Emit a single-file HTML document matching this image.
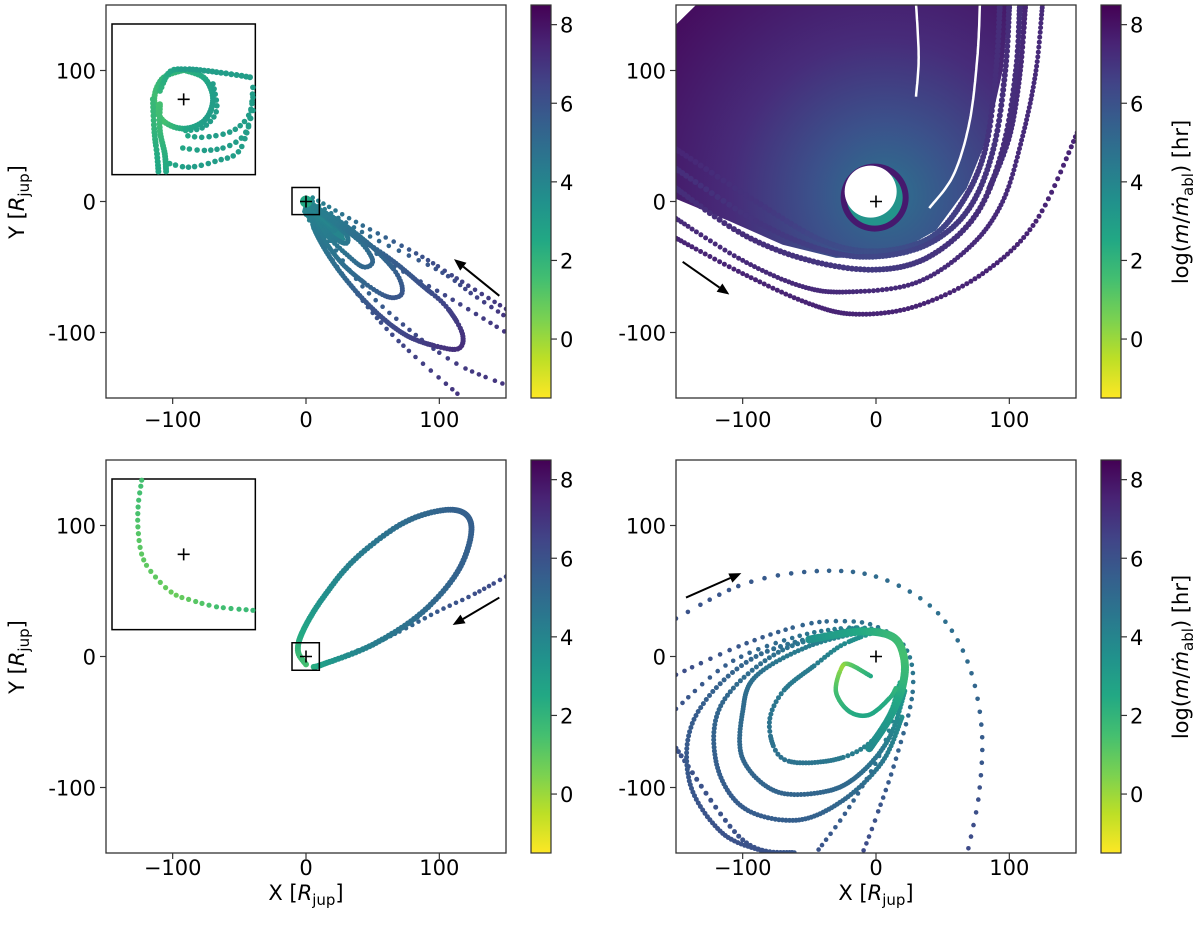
<!DOCTYPE html>
<html><head><meta charset="utf-8"><style>
body{margin:0;background:#fff;}
svg{display:block;font-family:"DejaVu Sans","Liberation Sans",sans-serif;}
</style></head><body>
<svg id="fig" width="1200" height="934" viewBox="0 0 1200 934" xmlns="http://www.w3.org/2000/svg">
<defs>
<linearGradient id="cbar" x1="0" y1="0" x2="0" y2="1">
<stop offset="0" stop-color="#440154"/><stop offset="0.1" stop-color="#482475"/><stop offset="0.2" stop-color="#414487"/><stop offset="0.3" stop-color="#355f8d"/><stop offset="0.4" stop-color="#2a788e"/><stop offset="0.5" stop-color="#21918c"/><stop offset="0.6" stop-color="#22a884"/><stop offset="0.7" stop-color="#44bf70"/><stop offset="0.8" stop-color="#7ad151"/><stop offset="0.9" stop-color="#bddf26"/><stop offset="1" stop-color="#fde725"/>
</linearGradient>
<radialGradient id="trfill" gradientUnits="userSpaceOnUse" cx="885" cy="195" r="280">
<stop offset="0" stop-color="#2c728e"/><stop offset="0.25" stop-color="#3b528b"/><stop offset="0.55" stop-color="#472c7a"/><stop offset="1" stop-color="#450a5c"/>
</radialGradient>
<clipPath id="c0"><rect x="106" y="5" width="400" height="393"/></clipPath>
<clipPath id="c1"><rect x="676" y="5" width="400" height="393"/></clipPath>
<clipPath id="c2"><rect x="106" y="460" width="400" height="393"/></clipPath>
<clipPath id="c3"><rect x="676" y="460" width="400" height="393"/></clipPath>
</defs>
</svg>
<script>
// ---- data (data units: X,Y in R_jup; third value = log(m/mdot) ) ----
const ticksXY=[-100,0,100];
const tickLabelsX=["\u2212100","0","100"];
const tickLabelsY=["-100","0","100"];
const cbarTicks=[8,6,4,2,0];
// top-left
const tlLoop1=[[2,-2,4],[25,-18,4.5],[62,-43,5.5],[87,-64,6],[105,-80,6.5],[117,-100,7],[115,-112,7.2],[100,-111,7],[75,-102,6.5],[50,-82,6],[25,-53,5],[8,-25,4.5],[2,-5,4]];
const tlLoop2=[[2,-2,4],[25,-15,4.5],[50,-35,5],[68,-55,5.5],[72,-70,5.8],[62,-73,5.8],[45,-63,5.3],[25,-45,4.8],[8,-20,4.3],[2,-5,4]];
const tlLoop3=[[2,-2,4],[20,-15,4.3],[40,-30,4.8],[50,-45,5.2],[43,-50,5.2],[30,-40,4.8],[15,-25,4.3],[3,-8,4]];
const tlLoop4=[[2,-2,4],[15,-12,4.2],[30,-25,4.5],[30,-32,4.6],[20,-27,4.4],[8,-15,4.1]];
const tlLoop5=[[2,-2,3.8],[12,-10,4],[22,-20,4.2],[18,-22,4.2],[6,-12,4]];
const tlRowA=[[5,3,4],[40,-17,5],[85,-41,6],[115,-60,6.5],[150,-82,7]];
const tlRowB=[[5,0,4],[45,-25,5],[100,-53,6],[125,-71,6.5],[150,-88,7]];
const tlRowC=[[5,-2,4],[60,-45,5.5],[110,-75,6.5],[150,-100,7]];
const tlRowD=[[0,-10,4],[20,-45,5],[50,-85,6],[75,-112,6.5],[115,-148,7]];
const tlRowE=[[5,-10,4],[40,-62,5.3],[80,-100,6.3],[115,-125,6.8],[150,-140,7]];
const tlArrow=[[145,-72],[111,-44]];
// top-left inset (inset units, -10..10)
const tliRing=[[0,4.2,2],[3,3,2.5],[4.2,0,3],[3,-3,3],[0,-4.2,2.5],[-3,-3,1.5],[-4.2,0,1.5],[-3,3,2],[0,4.2,2]];
const tliTop=[[-3.4,1.2,2],[-2,3.9,2.5],[0.4,4.3,3],[4.7,3.9,3],[9.9,3.1,3]];
const tliArc1=[[9.9,1.7,3],[9.4,-2.1,3],[7,-4.5,3],[3.2,-5.4,3],[0.4,-5.2,2.5]];
const tliArc2=[[9.9,0.3,3],[9,-4.5,3],[6.6,-6.6,3],[3.2,-7.3,3],[-0.6,-6.9,2.5]];
const tliArc3=[[9.9,-1.6,3],[8,-7.3,3],[4.7,-8.8,3],[0.9,-9.7,3],[-2,-9.2,2.5]];
const tliInner=[[4.2,2.2,3],[4.7,-1.6,3],[2.8,-4,3],[-0.1,-4.5,2.5]];
const tliLeft=[[-3.4,-0.7,1.5],[-3.4,-4.5,1.8],[-2.7,-7.8,2.2],[-2.5,-10.4,2.5]];
const tliLeft2=[[-4.4,0,1.8],[-4.2,-4.5,2],[-3.8,-8,2.4],[-3.6,-10.4,2.6]];
// top-right
const trFillEdge=[[-150,135],[-135,150],[100,150],[95,100],[84,50],[68,10],[45,-22],[10,-42],[-30,-43],[-70,-33],[-110,-15],[-150,2]];
const trCurveA=[[-150,-28,7.5],[-100,-55,7.5],[-50,-78,7.5],[-15,-86,7.5],[30,-80,7.5],[80,-55,7.5],[120,-15,7.5],[152,55,7.5]];
const trCurveB=[[-150,-13,7.3],[-100,-45,7.3],[-55,-65,7.3],[-20,-69,7.3],[30,-62,7.3],[70,-35,7.3],[95,0,7.3],[110,50,7.3],[120,100,7.3],[125,152,7.3]];
const trCurveC=[[-150,10,7.2],[-100,-25,7.2],[-50,-45,7],[0,-52,6.8],[40,-42,7],[75,-10,7.2],[95,40,7.2],[105,100,7.2],[108,152,7.2]];
const trCurveD=[[-150,25,7.2],[-90,-15,7],[-40,-37,6.6],[0,-42,6.4],[40,-32,6.6],[70,-5,7],[88,40,7],[97,100,7.2],[100,152,7.2]];
const trCurveE=[[-150,40,7.5],[-90,0,7],[-40,-30,6.3],[0,-38,6.1],[40,-28,6.3],[65,0,6.8],[82,40,7],[90,100,7.2],[93,152,7.2]];
const trCurveF=[[112,152,7.5],[108,100,7.3],[100,50,7.2],[85,10,7]];
const trStripes=[[[40,-5],[58,20],[70,60],[76,110],[78,152]],[[30,152],[32,110],[30,80]]];
const trHole=[-1,3];
const trArrow=[[-145,-46],[-110,-71]];
// bottom-left
const blLoop=[[0,-6,1.5],[-6,4,1.8],[-2.5,19,2.5],[12.5,44.5,3.5],[37.5,75,4.3],[75,103,5],[110,112,5.4],[124,100,5.5],[115,67,5.4],[87.5,34,5],[50,9,4.3],[12.5,-6,3],[5,-8,2]];
const blIn=[[150,61,6.3],[125,47,6.1],[100,35,5.8],[75,21.6,5.2],[50,9,4.6],[37.5,4,4],[10,-7.6,3]];
const blArrow=[[145,45],[110,24]];
const bliArc=[[-6,10.6,1.5],[-6.5,7,1.5],[-6.5,3.2,1.2],[-5.8,-0.6,1],[-3.9,-3.4,1],[-1.5,-5.6,0.8],[0.9,-6.5,1],[4.7,-7.5,1.5],[9.9,-8,1.8]];
// bottom-right
const brOuter=[[-150,29,6],[-100,55,5.8],[-47.5,65,5.5],[0,61,5],[42.5,37,4.8],[67.5,-1,5],[79,-52,5.5],[77.5,-103,6],[69,-148,6.3]];
const brNext=[[-150,-14,6.2],[-100,9,5.8],[-55,24,5.3],[-25,27,5],[0,23,4.6],[22.5,6,4.3],[27.5,-27,4.8],[15,-78,5.5],[0,-123,6],[-10,-150,6.3]];
const brGreen=[[-50,13,3.5],[-12.5,19,2.5],[12.5,15,1.8],[21,-1,1.5],[20,-22,2],[10,-47,3],[-5,-70,3.8]];
const brLoop1=[[0,19,3],[-25,9,3.8],[-45,-6,4.3],[-70,-27,4.5],[-80,-52,4.7],[-70,-78,4.8],[-37.5,-80,4.6],[-10,-70,4.2],[8,-50,3.5],[18,-20,2.5]];
const brLoop2=[[-5,20,3.5],[-50,8,4.3],[-90,-15,4.8],[-100,-42,5],[-100,-78,5.2],[-75,-103,5.3],[-37.5,-103,5.2],[-12.5,-90,5],[10,-62,4.2],[22,-25,3]];
const brLoop3=[[-10,21,3.8],[-70,5,4.8],[-115,-35,5.2],[-120,-80,5.5],[-100,-115,5.6],[-60,-125,5.5],[-25,-110,5.2],[5,-80,4.5],[20,-45,3.5]];
const brLoop4=[[-15,22,4],[-90,0,5.2],[-135,-45,5.6],[-140,-95,5.8],[-115,-135,6],[-80,-150,6]];
const brLoop5=[[-150,-40,6],[-110,-5,5.5],[-60,15,4.8],[-20,22,4.2],[5,20,3.5]];
const brLoop6=[[-150,-70,6],[-100,-140,6],[-60,-150,5.8]];
const brFan=[[20,-20,3],[5,-70,4.5],[-20,-115,5.5],[-45,-150,6]];
const brSmall=[[-4,-15,2.5],[-20,-6,1],[-26,-9,0],[-30,-27,1.5],[-20,-42,2.3],[-5,-44.5,2.6],[10,-32,2.3],[15,-24,2]];
const brArrow=[[-142.5,45],[-101,63.6]];

// ---- helpers ----
const NS="http://www.w3.org/2000/svg";
const svg=document.getElementById('fig');
const VIR=["#440154","#482475","#414487","#355f8d","#2a788e","#21918c","#22a884","#44bf70","#7ad151","#bddf26","#fde725"];
function hex(h){return [parseInt(h.substr(1,2),16),parseInt(h.substr(3,2),16),parseInt(h.substr(5,2),16)];}
function color(v){let t=(8.5-v)/10;t=Math.max(0,Math.min(1,t));const f=t*10,i=Math.min(9,Math.floor(f)),u=f-i;const a=hex(VIR[i]),b=hex(VIR[i+1]);return "rgb("+a.map((c,k)=>Math.round(c+(b[k]-c)*u)).join(",")+")";}
function el(tag,attrs,parent){const e=document.createElementNS(NS,tag);for(const k in attrs)e.setAttribute(k,attrs[k]);(parent||svg).appendChild(e);return e;}
const panels=[{x0:106,y0:5},{x0:676,y0:5},{x0:106,y0:460},{x0:676,y0:460}];
function sx(p,x){return p.x0+(x+150)*400/300;}
function sy(p,y){return p.y0+(150-y)*393/300;}
function spline(P){const out=[];for(let i=0;i<P.length-1;i++){const p0=P[i-1]||P[i],p1=P[i],p2=P[i+1],p3=P[i+2]||P[i+1];for(let s=0;s<16;s++){const t=s/16,t2=t*t,t3=t2*t;const f=k=>0.5*((2*p1[k])+(-p0[k]+p2[k])*t+(2*p0[k]-5*p1[k]+4*p2[k]-p3[k])*t2+(-p0[k]+3*p1[k]-3*p2[k]+p3[k])*t3);out.push([f(0),f(1),p1[2]+(p2[2]-p1[2])*t]);}}const L=P[P.length-1];out.push([L[0],L[1],L[2]]);return out;}
function drawPts(g,screen,gap,r){const S=spline(screen);let acc=gap;for(let i=0;i<S.length;i++){if(i>0){acc+=Math.hypot(S[i][0]-S[i-1][0],S[i][1]-S[i-1][1]);}if(acc>=gap){acc=0;el('circle',{cx:S[i][0].toFixed(1),cy:S[i][1].toFixed(1),r:r,fill:color(S[i][2])},g);}}}
function curve(g,p,data,gap,r,name){const grp=el('g',{},g);


drawPts(grp,data.map(d=>[sx(p,d[0]),sy(p,d[1]),d[2]]),gap,r);}
function arrow(g,p,a,name){const x1=sx(p,a[0][0]),y1=sy(p,a[0][1]),x2=sx(p,a[1][0]),y2=sy(p,a[1][1]);const ag=el('g',{},g);


const ang=Math.atan2(y2-y1,x2-x1),L=12,W=5;const bx=x2-L*Math.cos(ang),by=y2-L*Math.sin(ang);
el('line',{x1:x1,y1:y1,x2:bx,y2:by,stroke:'#000','stroke-width':2},ag);
el('polygon',{points:`${x2},${y2} ${bx-W*Math.sin(ang)},${by+W*Math.cos(ang)} ${bx+W*Math.sin(ang)},${by-W*Math.cos(ang)}`,fill:'#000'},ag);}
function plus(g,x,y,name){const pg=el('g',{},g);


el('path',{d:`M${x-6},${y}H${x+6}M${x},${y-6}V${y+6}`,stroke:'#000','stroke-width':1.6},pg);}
function text(x,y,s,anchor,size,name){const t=el('text',{x:x,y:y,'text-anchor':anchor,'font-size':size,fill:'#000'});


t.textContent=s;return t;}

// ---- panels ----
panels.forEach((p,i)=>{
  const g=el('g',{'clip-path':`url(#c${i})`});
  
  
  p.g=g;
});
// TL
(function(){const p=panels[0],g=p.g;
 const band=el('polygon',{points:[[0,4],[24,-14],[30,-30],[12,-28],[-3,-8]].map(d=>sx(p,d[0])+','+sy(p,d[1])).join(' '),fill:color(4)},g);
 
 
 curve(g,p,tlRowA,5.5,2.3,'tl-row-a');curve(g,p,tlRowB,6,2.3,'tl-row-b');curve(g,p,tlRowC,7,2.3,'tl-row-c');
 curve(g,p,tlRowD,6,2.3,'tl-row-d');curve(g,p,tlRowE,7,2.3,'tl-row-e');
 curve(g,p,tlLoop5,1.5,2.5,'tl-loop-5');curve(g,p,tlLoop4,1.5,2.5,'tl-loop-4');curve(g,p,tlLoop3,2,2.5,'tl-loop-3');
 curve(g,p,tlLoop2,2,2.5,'tl-loop-2');curve(g,p,tlLoop1,2,2.6,'tl-loop-1');
 el('circle',{cx:sx(p,0),cy:sy(p,0),r:6,fill:color(2.5)},g);
 plus(g,sx(p,0),sy(p,0),'tl-planet-marker');
 const zb=el('rect',{x:sx(p,-10.5),y:sy(p,10.7),width:sx(p,10)-sx(p,-10.5),height:sy(p,-10)-sy(p,10.7),fill:'none',stroke:'#000','stroke-width':1.5},g);
 
 
 arrow(g,p,tlArrow,'tl-direction-arrow');
})();
// TR
(function(){const p=panels[1],g=p.g;
 const f=el('polygon',{points:trFillEdge.map(d=>sx(p,d[0])+','+sy(p,d[1])).join(' '),fill:'url(#trfill)'},g);
 
 
 curve(g,p,trCurveF,1,3,'tr-curve-f');curve(g,p,trCurveE,1,3,'tr-curve-e');curve(g,p,trCurveD,1,3,'tr-curve-d');curve(g,p,trCurveC,1,3,'tr-curve-c');
 curve(g,p,trCurveB,1,2.5,'tr-curve-b');curve(g,p,trCurveA,1,2.5,'tr-curve-a');
 trStripes.forEach(s=>{const S=spline(s.map(d=>[sx(p,d[0]),sy(p,d[1]),0]));const pl=el('polyline',{points:S.map(q=>q[0].toFixed(1)+','+q[1].toFixed(1)).join(' '),fill:'none',stroke:'#fff','stroke-width':2.5},g);
  
  });
 const cx=sx(p,trHole[0]),cy=sy(p,trHole[1]);
 const ring=el('circle',{cx:cx,cy:cy,r:34,fill:'#46196e'},g);
 
 
 el('circle',{cx:cx,cy:cy,r:28,fill:'#23948b'},g);
 el('circle',{cx:cx-4,cy:cy-6,r:26,fill:'#fff'},g);
 plus(g,sx(p,0),sy(p,0),'tr-planet-marker');
 arrow(g,p,trArrow,'tr-direction-arrow');
})();
// BL
(function(){const p=panels[2],g=p.g;
 curve(g,p,blIn,5,2.3,'bl-incoming');curve(g,p,blLoop,1.2,3,'bl-loop');
 plus(g,sx(p,0),sy(p,0),'bl-planet-marker');
 const zb=el('rect',{x:sx(p,-10.5),y:sy(p,10.5),width:sx(p,10)-sx(p,-10.5),height:sy(p,-10.5)-sy(p,10.5),fill:'none',stroke:'#000','stroke-width':1.5},g);
 
 
 arrow(g,p,blArrow,'bl-direction-arrow');
})();
// BR
(function(){const p=panels[3],g=p.g;
 curve(g,p,brOuter,10,2.3,'br-outer');curve(g,p,brNext,7,2.3,'br-next');
 curve(g,p,brLoop5,6,2.3,'br-loop-5');curve(g,p,brLoop6,2,2.5,'br-loop-6');curve(g,p,brLoop4,2,2.5,'br-loop-4');
 curve(g,p,brLoop3,2,2.5,'br-loop-3');curve(g,p,brLoop2,2,2.5,'br-loop-2');curve(g,p,brLoop1,2.5,2.5,'br-loop-1');
 curve(g,p,brFan,5,2.3,'br-fan');
 curve(g,p,brGreen,1.2,4,'br-dense-band');curve(g,p,brSmall,1.2,2.3,'br-small-loop');
 plus(g,sx(p,0),sy(p,0),'br-planet-marker');
 arrow(g,p,brArrow,'br-direction-arrow');
})();
// insets
function inset(p,name,parts){const bx=sx(p,-145.5),by=sy(p,135.5),w=sx(p,-38)-bx,h=sy(p,20.5)-by;
 const g=el('g',{});
 el('rect',{x:bx,y:by,width:w,height:h,fill:'#fff',stroke:'#000','stroke-width':1.5},g);
 const cx=bx+w/2,cy=by+h/2,k=w/20.5;
 parts.forEach(pt=>{const sg=el('g',{},g);
  
  
  drawPts(sg,pt[1].map(d=>[cx+d[0]*k,cy-d[1]*k,d[2]]),pt[2],pt[3]);});
 plus(g,cx,cy,name+'-marker');}
inset(panels[0],'tl-inset',[['inset-ring',tliRing,2,3],['inset-top',tliTop,3,3],['inset-arc-1',tliArc1,6,2.8],['inset-arc-2',tliArc2,6,2.8],['inset-arc-3',tliArc3,6,2.8],['inset-inner',tliInner,5,2.8],['inset-left',tliLeft,2,3],['inset-left-2',tliLeft2,3,3]]);
inset(panels[2],'bl-inset',[['inset-arc',bliArc,6,2.6]]);

// frames, ticks, labels, colorbars
panels.forEach((p,i)=>{
 const fr=el('rect',{x:p.x0,y:p.y0,width:400,height:393,fill:'none',stroke:'#333','stroke-width':1.3});
 
 
 const xb=i<2?427:875;
 ticksXY.forEach((v,j)=>{const x=sx(p,v);el('line',{x1:x,y1:p.y0+393,x2:x,y2:p.y0+399,stroke:'#333','stroke-width':1.2});
  text(x,xb,tickLabelsX[j],'middle',21,'x-tick-label');
  const y=sy(p,v);el('line',{x1:p.x0-6,y1:y,x2:p.x0,y2:y,stroke:'#333','stroke-width':1.2});
  text(p.x0-10,y+8,tickLabelsY[j],'end',21,'y-tick-label');});
 const cbx=p.x0+425;
 const cb=el('rect',{x:cbx,y:p.y0,width:20,height:393,fill:'url(#cbar)',stroke:'#333','stroke-width':1.2});
 
 
 cbarTicks.forEach(v=>{const y=p.y0+(8.5-v)/10*393;el('line',{x1:cbx+20,y1:y,x2:cbx+26,y2:y,stroke:'#333','stroke-width':1.2});text(cbx+29,y+8,String(v),'start',21,'colorbar-tick-label');});
});
// axis titles
function ylab(x,y){const t=el('text',{x:x,y:y,'text-anchor':'middle','font-size':21,transform:`rotate(-90 ${x} ${y})`});
 
 
 t.innerHTML='Y [<tspan font-style="italic">R</tspan><tspan font-size="15" dy="5">jup</tspan><tspan dy="-5">]</tspan>';}
function xlab(x,y){const t=el('text',{x:x,y:y,'text-anchor':'middle','font-size':21});
 
 
 t.innerHTML='X [<tspan font-style="italic">R</tspan><tspan font-size="15" dy="5">jup</tspan><tspan dy="-5">]</tspan>';}
function cblab(x,y){const t=el('text',{x:x,y:y,'text-anchor':'middle','font-size':21,transform:`rotate(-90 ${x} ${y})`});
 
 
 t.innerHTML='log(<tspan font-style="italic">m</tspan>/<tspan font-style="italic">ṁ</tspan><tspan font-size="15" dy="5">abl</tspan><tspan dy="-5">) [hr]</tspan>';}
ylab(24,202);ylab(24,657);xlab(306,900);xlab(876,900);cblab(1188,202);cblab(1188,657);
</script>
</body></html>
